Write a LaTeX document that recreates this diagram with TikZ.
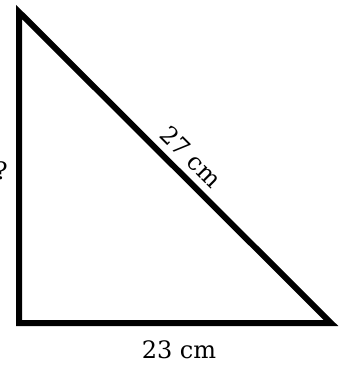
\documentclass[tikz,border=0pt]{standalone}
\usepackage{fontspec}
\setmainfont{DejaVu Serif}
\begin{document}
\begin{tikzpicture}[x=1pt,y=-1pt,
  edge/.style={line width=6pt,line join=miter},
  lbl/.style={font=\fontsize{24}{28}\selectfont,inner sep=0pt}]
\useasboundingbox (0,0) rectangle (338,367);
\coordinate (A) at (19,12);
\coordinate (B) at (19,323);
\coordinate (C) at (331,323);
\draw[edge] (A) -- (B) -- (C) -- cycle;
\path (A) -- (C) node[lbl,midway,sloped,above=9.5pt,xshift=4pt] (hyp) {27 cm};
\node[lbl] (base) at (179,350) {23 cm};
\node[lbl,anchor=east] (q) at (8,171) {?};
\end{tikzpicture}
\end{document}
